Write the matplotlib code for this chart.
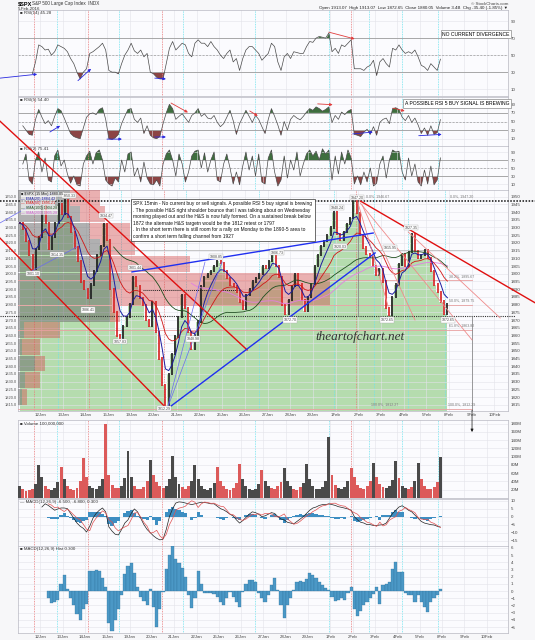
import numpy as np
import pandas as pd
import matplotlib
matplotlib.use("Agg")
import matplotlib.pyplot as plt

plt.rcParams['font.family'] = ['Liberation Sans', 'DejaVu Sans']

W, H = 535, 640
PER_DAY = 7  # hourly bars per session
nan = np.nan

# session labels shown on the date axis (day boundaries), incl. the empty future days
date_labels = ["12Jan", "13Jan", "14Jan", "15Jan", "19Jan", "20Jan", "21Jan", "22Jan",
               "25Jan", "26Jan", "27Jan", "28Jan", "29Jan", "1Feb", "2Feb", "3Feb",
               "4Feb", "5Feb", "8Feb", "9Feb", "10Feb"]

# $SPX hourly closes, 11 Jan - 5 Feb 2016 (7 per session)
close = [
    1933, 1929, 1921, 1912, 1903, 1916, 1923.67,
    1944, 1933, 1916, 1924, 1933, 1945, 1938.68,
    1948, 1937, 1927, 1917, 1908, 1895, 1890.28,
    1884, 1893, 1902, 1912, 1918, 1932, 1921.84,
    1890, 1875, 1860, 1858, 1866, 1872, 1880.33,
    1898, 1892, 1884, 1880, 1870, 1866, 1881.33,
    1862, 1845, 1828, 1812.29, 1835, 1848, 1859.33,
    1872, 1886, 1878, 1862, 1851, 1860, 1868.99,
    1892, 1898, 1900, 1902, 1905, 1908, 1906.90,
    1902, 1897, 1893, 1892, 1888, 1882, 1877.08,
    1886, 1890, 1895, 1897, 1900, 1905, 1903.63,
    1908, 1915, 1905, 1898, 1880, 1874, 1882.95,
    1892, 1900, 1893, 1883, 1876, 1885, 1893.36,
    1905, 1912, 1918, 1921, 1925, 1930, 1940.24,
    1926, 1922, 1927, 1932, 1936, 1947, 1939.38,
    1925, 1917, 1913, 1911, 1905, 1899, 1903.03,
    1895, 1878, 1873, 1885, 1893, 1906, 1912.53,
    1905, 1914, 1926, 1915, 1910, 1912, 1915.45,
    1910, 1902, 1893, 1888, 1882, 1874, 1880.05,
]

# volume in millions
volume = [
    30, 22, 18, 20, 22, 35, 80,
    52, 30, 22, 20, 24, 38, 75,
    45, 28, 22, 20, 25, 40, 97,
    50, 30, 24, 22, 28, 45, 180,
    55, 32, 25, 24, 28, 48, 115,
    50, 30, 22, 22, 26, 42, 92,
    55, 38, 28, 25, 30, 45, 102,
    50, 35, 26, 22, 28, 40, 80,
    45, 30, 22, 20, 24, 36, 75,
    42, 28, 22, 20, 24, 36, 83,
    45, 28, 22, 20, 22, 34, 68,
    40, 30, 24, 22, 28, 38, 73,
    42, 30, 22, 20, 26, 36, 83,
    45, 30, 22, 22, 26, 40, 148,
    55, 32, 24, 22, 26, 40, 73,
    50, 32, 24, 22, 28, 40, 85,
    52, 34, 26, 24, 30, 44, 90,
    48, 30, 24, 22, 26, 40, 85,
    45, 30, 22, 22, 26, 38, 100,
]

rsi14 = [
    nan, nan, nan, nan, 28, 42, 62,
    60, 56, 57, 50, 54, 62, 60,
    58, 54, 46, 40, 30, 22, 30,
    34, 52, 54, 57, 60, 64, 56,
    32, 30, 30, 28, 40, 50, 56,
    64, 55, 52, 56, 48, 52, 30,
    28, 24, 22, 22, 40, 58, 66,
    56, 60, 64, 62, 52, 48, 64,
    68, 64, 64, 60, 66, 60, 56,
    50, 46, 52, 56, 42, 46, 32,
    46, 56, 60, 60, 56, 52, 44,
    48, 52, 64, 60, 42, 32, 48,
    52, 46, 54, 53, 52, 52, 60,
    66, 65, 70, 72, 71, 70, 76,
    54, 58, 52, 62, 60, 64, 68,
    34, 34, 34, 32, 36, 38, 44,
    26, 42, 46, 40, 36, 58, 56,
    62, 56, 52, 54, 52, 56, 48,
    38, 36, 32, 40, 36, 32, 45.28,
]

rsi5 = [
    nan, 40, 30, 20, 18, 55, 78,
    60, 45, 52, 40, 62, 80, 75,
    58, 40, 22, 15, 12, 10, 35,
    60, 68, 70, 66, 78, 82, 55,
    10, 8, 12, 20, 45, 62, 78,
    80, 55, 48, 58, 22, 40, 18,
    12, 10, 15, 45, 70, 90, 80,
    55, 62, 68, 58, 48, 64, 70,
    80, 62, 68, 58, 56, 64, 48,
    38, 45, 60, 76, 52, 20, 45,
    60, 76, 62, 48, 64, 55, 38,
    22, 55, 80, 62, 42, 18, 50,
    30, 55, 64, 58, 54, 62, 72,
    80, 76, 84, 80, 74, 78, 84,
    48, 64, 55, 72, 66, 74, 78,
    20, 18, 15, 25, 32, 20, 38,
    18, 48, 55, 58, 45, 80, 82,
    78, 60, 52, 64, 48, 58, 42,
    22, 35, 18, 40, 20, 24, 54.40,
]

rsi2 = [
    nan, 60, 85, 20, 10, 70, 90,
    40, 75, 20, 15, 80, 95, 55,
    70, 35, 12, 30, 8, 5, 60,
    80, 92, 60, 88, 95, 70, 20,
    10, 5, 25, 15, 70, 40, 85,
    90, 30, 50, 15, 65, 25, 10,
    8, 20, 5, 60, 85, 95, 70,
    30, 85, 60, 15, 40, 80, 92,
    95, 50, 88, 40, 70, 90, 20,
    15, 60, 85, 50, 10, 40, 8,
    55, 90, 45, 80, 30, 85, 15,
    10, 75, 95, 40, 5, 20, 80,
    25, 70, 45, 90, 30, 60, 85,
    95, 80, 92, 70, 98, 85, 95,
    20, 80, 35, 90, 60, 95, 75,
    10, 30, 8, 40, 15, 50, 5,
    12, 60, 80, 25, 70, 95, 90,
    92, 40, 20, 75, 30, 60, 15,
    5, 45, 10, 55, 8, 20, 75.41,
]

macd = [
    nan, nan, nan, nan, nan, nan, nan,
    6, 8, 7, 5.5, 4, 4.8, 5.4,
    5.4, 5, 2, -1, -4, -6, -7.3,
    -9.6, -6, -1, 2, 4, 5.4, 3,
    -6.4, -9, -11, -11.4, -8, -4, -2,
    2, 4.8, 3, -1, -5, -8, -10,
    -12, -13.5, -14.5, -14, -8, 0, 5,
    8.5, 9.2, 9, 8.5, 8, 7.5, 8,
    8.5, 9, 8.8, 8.5, 8, 8, 6.5,
    5, 4.2, 3, 1.5, 0.4, -2, -4,
    -2.5, -0.5, 1.5, 3, 2.5, 1.5, 0,
    0.5, 1.5, 2.5, 2, 0, -1.5, -2,
    -3.5, -4, -4.5, -3, -1.5, 0, 2,
    4, 5.4, 6, 7, 7.5, 7.5, 8,
    7.5, 7, 6.2, 5.8, 5.3, 4.8, 4,
    0, -2, -3.5, -4, -5, -5, -5.5,
    -5.5, -5.2, -5, -4, -1, 2, 4,
    6, 6.8, 5.5, 4, 3, 1, -1,
    -3, -4, -4.5, -5, -5.2, -6, -6.5,
]

macd_hist = [
    nan, nan, nan, nan, nan, nan, nan,
    nan, nan, -1.0, -1.7, -1.5, -1.2, 1.0,
    2.2, 0.3, -1.0, -2.0, -3.2, -4.0, -2.5,
    -1.8, 2.8, 2.8, 2.9, 2.8, 1.8, 0.6,
    -4.5, -5.6, -4.0, -2.5, -0.5, 2.4, 3.5,
    3.9, 2.5, 0.5, -0.8, -1.4, -2.0, 0.3,
    -2.2, -5.0, -2.5, -0.2, 3.0, 5.0, 6.2,
    4.5, 3.9, 3.2, 2.0, -0.5, -2.4, -1.0,
    2.8, 1.0, -0.3, -0.3, -0.3, -0.4, -0.9,
    -1.5, -2.0, -1.0, -0.1, -0.8, -1.5, -2.2,
    -0.2, 1.0, 1.5, 1.5, 1.2, -0.3, -1.0,
    -1.5, -0.5, 0.8, 1.8, 0.2, -2.0, -3.7,
    -2.0, -1.0, 0.2, 1.2, 1.4, 1.2, 1.6,
    2.5, 2.2, 1.8, 1.3, 0.8, 0.4, 0.1,
    -0.8, -1.4, -1.2, -1.0, -1.2, -0.3, 0.5,
    -2.5, -3.5, -2.8, -2.0, -1.5, -1.0, -0.4,
    0.6, -1.8, 0.8, 1.0, 1.2, 3.0, 4.0,
    2.6, 2.7, -0.3, -0.5, -0.6, -1.5, -0.5,
    -1.5, -2.2, -2.9, -1.5, -1.0, -0.5, 0.3,
]

# volume-by-price: bin edges (price) and up / down volume per bin
vbp_edges = [1814.9, 1825.7, 1836.4, 1847.2, 1857.9, 1868.7, 1879.4,
             1890.2, 1901.0, 1911.7, 1922.5, 1933.2, 1944.0, 1954.7]
vbp_up = [4, 7, 17, 4, 6, 92, 92, 102, 92, 82, 72, 62, 52]
vbp_down = [5, 15, 10, 18, 36, 10, 220, 210, 80, 35, 40, 25, 30]

# signal marker lines (bar index)
red_marks = [5.0, 21.9, 45.1, 104.4]
cyan_marks = [12.2, 31.7, 51.7, 74.3, 97.5, 110.0, 120.4, 131.7]

# fib retracement 1947.20 -> 1812.29
fib_levels = [("0.0%", 1947.20), ("38.2%", 1895.67), ("50.0%", 1879.75),
              ("61.8%", 1863.82), ("100.0%", 1812.29)]

# hand drawn trend lines: (bar0, price0, bar1, price1)
red_lines = [(-5.6, 1923.2, 46.0, 1812.3), (-5.6, 1999.0, 70.7, 1850.6),
             (105.6, 1947.2, 159.6, 1881.1)]
pink_lines = [(120.4, 1927.1, 148.8, 1871.3), (105.6, 1945.9, 140.1, 1857.1),
              (104.9, 1945.9, 114.2, 1879.0), (106.2, 1944.6, 122.5, 1870.0)]
blue_thick = [(35.2, 1901.2, 109.6, 1926.4), (46.0, 1812.3, 110.2, 1913.5)]
blue_thin = [(-5.6, 1932.9, 10.8, 1952.4), (3.1, 1900.5, 18.2, 1917.4),
             (46.0, 1812.3, 57.7, 1907.6), (46.0, 1812.3, 63.0, 1907.6)]

price_tags = [(4.6, 1899.9, "1901.10"), (15.8, 1950.6, "1950.33"), (12.0, 1912.2, "1914.35"),
              (21.6, 1876.5, "1886.41"), (27.2, 1937.5, "1934.47"), (31.5, 1855.8, "1857.83"),
              (36.1, 1903.8, "1901.44"), (45.0, 1812.6, "1812.29"), (61.1, 1910.9, "1908.85"),
              (54.0, 1857.7, "1848.98"), (79.9, 1913.5, "1906.73"), (84.0, 1870.0, "1872.70"),
              (98.5, 1942.7, "1940.24"), (104.6, 1949.3, "1947.20"), (99.4, 1917.4, "1920.03"),
              (113.9, 1870.0, "1872.65"), (121.3, 1929.7, "1927.35"), (114.8, 1916.7, "1915.95"),
              (132.7, 1870.0, "1872.65")]

comment = ("SPX 15min - No current buy or sell signals. A possible RSI 5 buy signal is brewing\n"
           ". The possible H&S right shoulder bounce that I was talking about on Wednesday\n"
           "morning played out and the H&S is now fully formed. On a sustained break below\n"
           "1872 the alternate H&S targetn would be the 1812 retest or 1797\n"
           ". In the short term there is still room for a rally on Monday to the 1890-5 area to\n"
           "confirm a short term falling channel from 1927")

# ---------------------------------------------------------------------------
x = np.arange(len(close)) + 0.5
c = np.array(close, float)
day_ticks = np.arange(1, len(date_labels) + 1) * PER_DAY

fig = plt.figure(figsize=(W / 100, H / 100), dpi=100, facecolor='#f7f7f9')


def panel(top, bottom, **kw):
    return fig.add_axes([18 / W, 1 - bottom / H, 490 / W, (bottom - top) / H], **kw)


def style(ax, xmax, ylim, yticks, fmt):
    ax.set_facecolor('#fbfbfe')
    ax.set_xlim(0, xmax)
    ax.set_ylim(*ylim)
    ax.set_xticks(day_ticks)
    ax.set_yticks(yticks)
    ax.yaxis.set_major_formatter(fmt)
    ax.yaxis.tick_right()
    ax.tick_params(length=0, labelsize=3.2, colors='#444', pad=2, labelbottom=False)
    ax.grid(color='#e3e3ea', lw=0.4)
    for s in ax.spines.values():
        s.set_color('#b8b8c2')
        s.set_linewidth(0.5)
    for m in red_marks:
        ax.axvline(m, color='#e87a7a', ls=(0, (1, 1)), lw=0.6, zorder=1.5)
    for m in cyan_marks:
        ax.axvline(m, color='#6fe3ee', ls=(0, (1, 1)), lw=0.6, zorder=1.5)


def rsi_panel(ax, vals, label):
    v = np.array(vals, float)
    ax.axhline(70, color='#9c9c9c', lw=0.6)
    ax.axhline(30, color='#9c9c9c', lw=0.6)
    ax.axhline(50, color='#9c9c9c', lw=0.5, ls=(0, (3, 2)))
    ax.fill_between(x, v, 70, where=v >= 70, interpolate=True, color='#3e6e3e', lw=0)
    ax.fill_between(x, v, 30, where=v <= 30, interpolate=True, color='#8c4444', lw=0)
    ax.plot(x, v, color='#4a4a4a', lw=0.5)
    ax.text(0.004, 0.985, "\u25a0 " + label, transform=ax.transAxes, fontsize=3.2,
            va='top', color='#333')


def arrow(ax, x0, y0, x1, y1, color):
    ax.annotate('', xy=(x1, y1), xytext=(x0, y0), annotation_clip=False,
                arrowprops=dict(arrowstyle='-|>', color=color, lw=0.6, mutation_scale=4,
                                shrinkA=0, shrinkB=0))


XMAX_LOW = 153.7
XMAX_MAIN = 151.2

# --- RSI(14)
ax1 = panel(10, 96)
style(ax1, XMAX_LOW, (2, 103), [10, 30, 50, 70, 90], '{x:.0f}')
rsi_panel(ax1, rsi14, f"RSI(14) {rsi14[-1]:.2f}")
arrow(ax1, -5.6, 23, 6.0, 27.6, '#2a2ae0')
arrow(ax1, 18.8, 20, 22.9, 34, '#2a2ae0')
arrow(ax1, 42.9, 23, 46.4, 22, '#2a2ae0')
arrow(ax1, 97.5, 77, 105.6, 69, '#e03c3c')

# --- RSI(5)
ax2 = panel(97, 146)
style(ax2, XMAX_LOW, (-7, 107), [10, 30, 50, 70, 90], '{x:.0f}')
rsi_panel(ax2, rsi5, f"RSI(5) {rsi5[-1]:.2f}")
for a in [(10.0, 25.5, 13.2, 40, 'b'), (27.9, 9, 32.6, 9, 'b'), (42.9, 14, 46.4, 14, 'b'),
          (48.0, 93, 53.3, 71, 'r'), (72.7, 74.5, 75.2, 63, 'r'), (94.0, 91, 98.7, 89, 'r'),
          (105.0, 21, 111.3, 25.5, 'b'), (117.6, 81, 121.3, 74.5, 'r'),
          (125.7, 17, 132.9, 20, 'b')]:
    arrow(ax2, *a[:4], '#2a2ae0' if a[4] == 'b' else '#e03c3c')

# --- RSI(2)
ax3 = panel(146, 190)
style(ax3, XMAX_LOW, (-5, 105), [10, 30, 50, 70, 90], '{x:.0f}')
rsi_panel(ax3, rsi2, f"RSI(2) {rsi2[-1]:.2f}")

# --- price panel
ax = panel(190, 411)
style(ax, XMAX_MAIN, (1811, 1954.3), np.arange(1815, 1955, 5), '{x:.0f}')
ax.set_xticklabels(date_labels)
ax.tick_params(axis='x', labelbottom=True, labelsize=3.2, pad=1.5)
sec = ax.secondary_yaxis('left')
sec.set_yticks(np.arange(1815, 1955, 5))
sec.yaxis.set_major_formatter('{x:.1f}')
sec.tick_params(length=0, labelsize=2.9, colors='#555', pad=1)
sec.spines['left'].set_visible(False)
ax.fill_between(x, c, 1811, step='mid', color='#b5dcae', lw=0, zorder=1)

ax_v = ax.twiny()
ax_v.set_xlim(0, 490)
ax_v.axis('off')
edges = np.array(vbp_edges)
centers = (edges[:-1] + edges[1:]) / 2
hgt = np.diff(edges) * 0.96
ax_v.barh(centers, vbp_up, height=hgt, color='#666666', alpha=0.5, lw=0)
ax_v.barh(centers, vbp_down, left=vbp_up, height=hgt, color='#d34848', alpha=0.42, lw=0)

ax_p = panel(190, 411, sharex=ax, sharey=ax)
ax_p.axis('off')
ax_p.patch.set_visible(False)
ax_p.set_zorder(5)

s = pd.Series(c)
ma_blue = s.ewm(span=5, adjust=False).mean()
ma_red = s.ewm(span=14, adjust=False).mean()
ma_green = s.rolling(30).mean()
ma_pink = s.rolling(54).mean()

# horizontal levels
for name, lev in fib_levels[1:]:
    ax_p.plot([0, 140.1], [lev, lev], color='#e8a0a0', lw=0.6)
ax_p.plot([0, 140.1], [1915.36, 1915.36], color='#b0b0b0', lw=0.5)
ax_p.plot([-5.6, 159.6], [1947.2, 1947.2], color='#111', ls=(0, (1, 1)), lw=1.1, clip_on=False)
ax_p.plot([-5.6, 153.4], [1872.65, 1872.65], color='#333', ls=(0, (1, 1)), lw=0.8, clip_on=False)
ax_p.plot([38.6, 68.5], [1889.5, 1889.5], color='#222', ls=(0, (1, 1)), lw=0.7)
ax_p.plot([104.9, 104.9], [1947.2, 1872.65], color='#777', lw=0.5)
ax_p.plot([140.1, 140.1], [1872.65, 1811], color='#777', lw=0.5)
ax_p.annotate('', xy=(140.1, 1797.4), xytext=(140.1, 1811.5), annotation_clip=False,
              arrowprops=dict(arrowstyle='-|>', color='#111', lw=0.5, mutation_scale=4,
                              shrinkA=0, shrinkB=0))

# candles
prev = np.r_[c[0], c[:-1]]
lo, hi = np.minimum(prev, c) - 0.7, np.maximum(prev, c) + 0.7
up = c >= prev
ax_p.vlines(x[up], lo[up], hi[up], color='#1c1c1c', lw=1.2, zorder=3)
ax_p.vlines(x[~up], lo[~up], hi[~up], color='#d62020', lw=1.2, zorder=3)

ax_p.plot(x, ma_pink, color='#e37ee3', lw=0.6, zorder=4)
ax_p.plot(x, ma_green, color='#1f4f1f', lw=0.6, zorder=4)
ax_p.plot(x, ma_red, color='#d01515', lw=0.6, zorder=4)
ax_p.plot(x, ma_blue, color='#1c1ca0', lw=0.7, zorder=4)

for x0, y0, x1, y1 in red_lines:
    ax_p.plot([x0, x1], [y0, y1], color='#e01010', lw=1.0, clip_on=False, zorder=6)
for x0, y0, x1, y1 in pink_lines:
    ax_p.plot([x0, x1], [y0, y1], color='#ef8a8a', lw=0.6, clip_on=False, zorder=6)
for x0, y0, x1, y1 in blue_thick:
    ax_p.plot([x0, x1], [y0, y1], color='#1f2ff0', lw=1.0, clip_on=False, zorder=6)
for x0, y0, x1, y1 in blue_thin:
    ax_p.plot([x0, x1], [y0, y1], color='#6a6af0', lw=0.5, clip_on=False, zorder=6)

tag_box = dict(boxstyle='square,pad=0.15', fc='white', ec='#b0b0b0', lw=0.3)
for bx, py, t in price_tags:
    ax_p.text(bx, py, t, fontsize=2.6, ha='center', va='center', color='#444',
              bbox=tag_box, zorder=7)
for name, lev in fib_levels:
    yy = lev + 1.3
    ax_p.text(137, yy, f"{name}, {lev:.2f}", fontsize=2.6, ha='center', va='bottom',
              color='#777', zorder=7)
ax_p.text(111, 1948.5, "0.0%, 1946.67", fontsize=2.6, ha='center', va='bottom', color='#777')
ax_p.text(113, 1813.6, "100.0%, 1812.27", fontsize=2.6, ha='center', va='bottom', color='#777')

ax_p.text(35.6, 1947.0, comment, fontsize=3.5, va='top', ha='left', linespacing=1.38,
          family=['Liberation Sans Narrow', 'Liberation Sans'], color='#111',
          bbox=dict(boxstyle='square,pad=0.45', fc='white', ec='#333', lw=0.5), zorder=8)
ax_p.text(105.6, 1859, "theartofchart.net", fontsize=9.5, family='Liberation Serif',
          style='italic', color='#333', ha='center', va='center', zorder=8)

legend_rows = [("\u25a0 $SPX (15 Min) " + f"{c[-1]:.2f}", '#222'),
               (f"\u2014 EMA(20) {ma_blue.iloc[-1]:.2f}", '#1c1ca0'),
               (f"\u2014 EMA(50) {ma_red.iloc[-1]:.2f}", '#d01515'),
               (f"\u2014 SMA(100) {ma_green.iloc[-1]:.2f}", '#1f4f1f'),
               (f"\u2014 SMA(200) {ma_pink.iloc[-1]:.2f}", '#d060d0')]
for k, (t, col) in enumerate(legend_rows):
    ax_p.text(0.006, 0.99 - k * 0.021, t, transform=ax_p.transAxes, fontsize=2.7,
              va='top', color=col, zorder=8,
              bbox=dict(boxstyle='square,pad=0.1', fc='white', ec='none', alpha=0.6))

# --- volume
ax_vol = panel(420, 498)
style(ax_vol, XMAX_LOW, (0, 189), np.arange(20, 181, 20), '{x:.0f}M')
vol = np.array(volume, float)
ax_vol.bar(x[up], vol[up], width=0.92, color='#4a4a4a', lw=0, zorder=3)
ax_vol.bar(x[~up], vol[~up], width=0.92, color='#dc5a5a', lw=0, zorder=3)
ax_vol.text(0.004, 0.985, f"\u25a0 Volume {vol[-1] * 1e6:,.0f}", transform=ax_vol.transAxes,
            fontsize=3.2, va='top', color='#333')

# --- MACD
m = np.array(macd, float)
hh = np.array(macd_hist, float)
sig = m - hh
ok = ~np.isnan(hh)
ax_m = panel(499, 546)
style(ax_m, XMAX_LOW, (-18.3, 11), [-15, -10, -5, 0, 5, 10], '{x:.0f}')
ax_m.bar(x[ok], hh[ok], width=1.0, color='#3d8ec2', lw=0, zorder=3)
ax_m.plot(x, m, color='#222', lw=0.5, zorder=4)
ax_m.plot(x, sig, color='#e05050', lw=0.5, zorder=4)
ax_m.text(0.004, 0.985, f"\u2014 MACD(12,26,9) {m[-1]:.3f}, {sig[-1]:.3f}, {hh[-1]:.3f}",
          transform=ax_m.transAxes, fontsize=3.2, va='top', color='#333')

# --- MACD histogram
ax_h = panel(546, 633)
style(ax_h, XMAX_LOW, (-5.83, 6.25), np.arange(-5, 7, 1), '{x:.0f}')
ax_h.bar(x[ok], hh[ok], width=1.0, color='#4b98c6', edgecolor='#2b6e98', lw=0.2, zorder=3)
ax_h.set_xticklabels(date_labels)
ax_h.tick_params(axis='x', labelbottom=True, labelsize=3.2, pad=1.5)
ax_h.text(0.004, 0.99, f"\u25a0 MACD(12,26,9) Hist {hh[-1]:.3f}", transform=ax_h.transAxes,
          fontsize=3.2, va='top', color='#333')

# --- header and notes
fig.text(18 / W, 1 - 4 / H, "$SPX", fontsize=4, weight='bold', va='center')
fig.text(32 / W, 1 - 4 / H, "S&P 500 Large Cap Index  INDX", fontsize=3.3, va='center',
         color='#333')
fig.text(18 / W, 1 - 8.5 / H, "5-Feb-2016", fontsize=3.2, va='center', color='#333')
fig.text(508 / W, 1 - 4 / H, "\u00a9 StockCharts.com", fontsize=3.2, va='center',
         ha='right', color='#444')
fig.text(508 / W, 1 - 8.5 / H, "Open 1913.07  High 1913.07  Low 1872.65  Close 1880.05  "
         "Volume 3.4B  Chg -35.40 (-1.85%) \u25bc", fontsize=3.2, va='center', ha='right',
         color='#222')
note = dict(boxstyle='square,pad=0.35', fc='white', ec='#8a8a8a', lw=0.5)
fig.text(476 / W, 1 - 34 / H, "NO CURRENT DIVERGENCE", fontsize=3.6, ha='center',
         va='center', bbox=note)
fig.text(457 / W, 1 - 103.5 / H, "A POSSIBLE RSI 5 BUY SIGNAL IS BREWING", fontsize=3.6,
         ha='center', va='center', bbox=note)

fig.savefig("out.png", dpi=100, facecolor=fig.get_facecolor())
